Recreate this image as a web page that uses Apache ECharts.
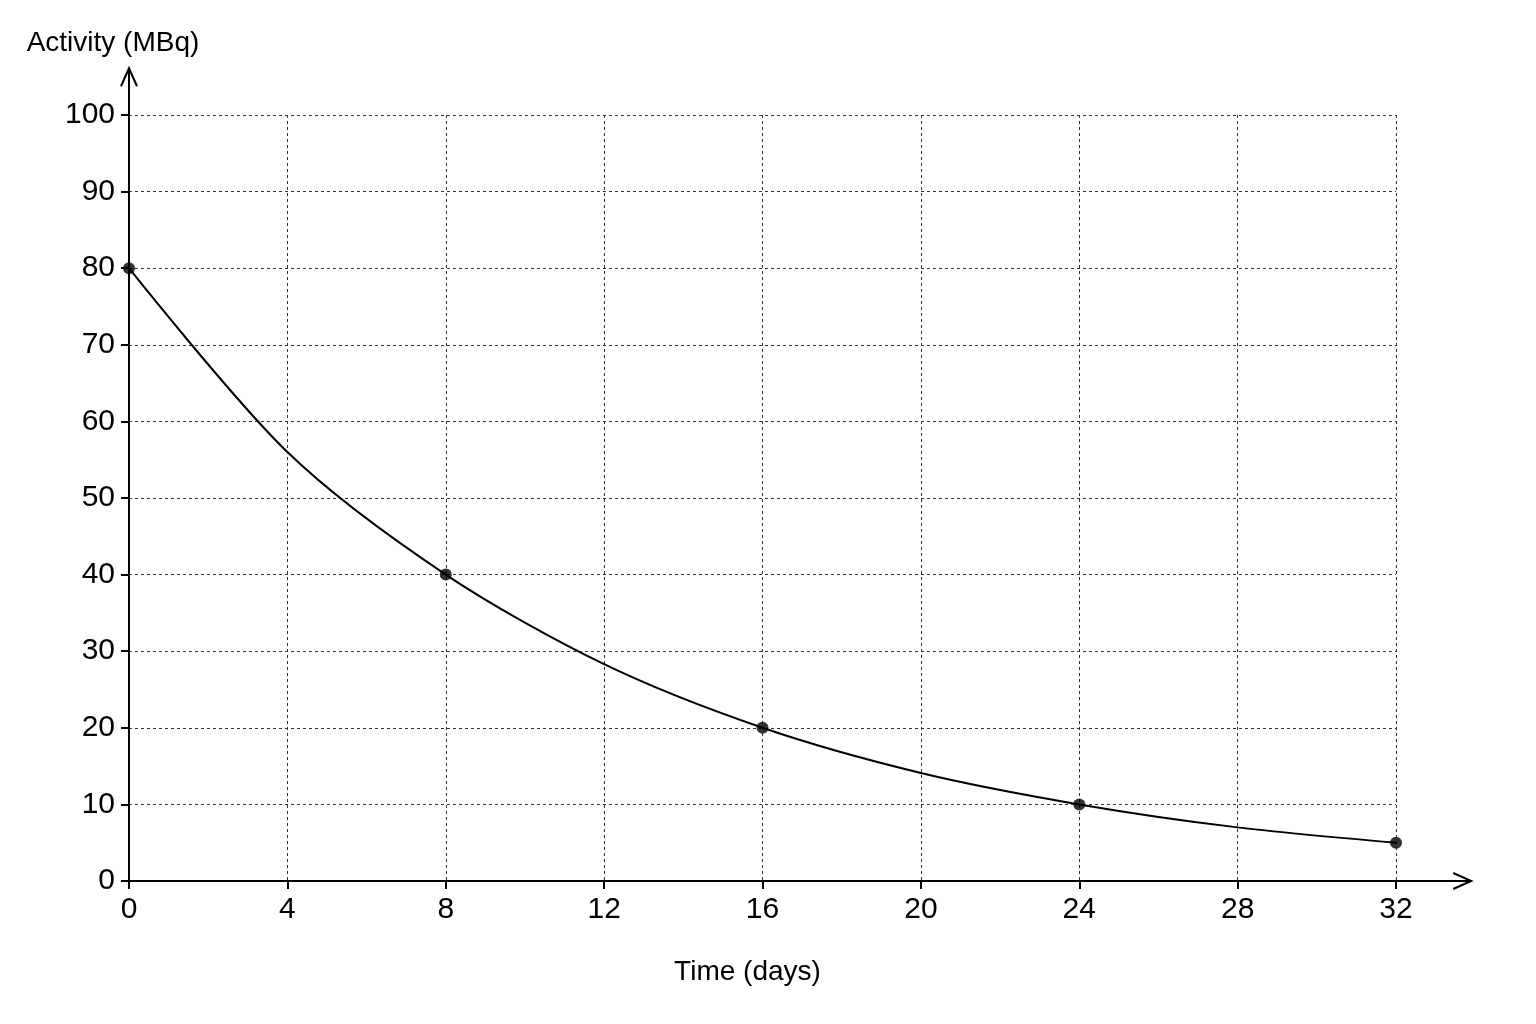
<!DOCTYPE html>
<html><head><meta charset="utf-8">
<script src="https://cdn.jsdelivr.net/npm/echarts@6/dist/echarts.min.js"></script>
<style>html,body{margin:0;background:#fff}#c{width:1536px;height:1024px}</style>
</head><body><div id="c"></div>
<script>
const days = [0, 8, 16, 24, 32];
const activity = [80, 40, 20, 10, 5];
const curveDays = [0, 4, 8, 12, 16, 20, 24, 28, 32];
const curveActivity = [80, 56, 40, 28.3, 20, 14.1, 10, 7, 5];
const font = 'Liberation Sans';
const chart = echarts.init(document.getElementById('c'));
const opt = {
  backgroundColor: '#fff',
  animation: false,
  grid: {left: 129, right: 140, top: 115, bottom: 143},
  xAxis: {type: 'value', min: 0, max: 32, interval: 4,
    axisLine: {show: false},
    axisTick: {show: true, length: 8, lineStyle: {color: '#000', width: 2}},
    axisLabel: {color: '#000', fontSize: 30, fontFamily: font, margin: 14},
    splitLine: {show: true, lineStyle: {color: '#333', type: [3, 3], width: 1}}},
  yAxis: {type: 'value', min: 0, max: 100, interval: 10,
    axisLine: {show: false},
    axisTick: {show: true, length: 8, lineStyle: {color: '#000', width: 2}},
    axisLabel: {color: '#000', fontSize: 30, fontFamily: font, margin: 14},
    splitLine: {show: true, lineStyle: {color: '#333', type: [3, 3], width: 1}}},
  series: [
    {type: 'line', smooth: 0.3, symbol: 'none', data: curveDays.map((d, i) => [d, curveActivity[i]]),
     lineStyle: {color: '#000', width: 2}, z: 3},
    {type: 'scatter', symbolSize: 12, data: days.map((d, i) => [d, activity[i]]),
     itemStyle: {color: '#000'}, z: 4}
  ]
};
chart.setOption(opt);
const o = chart.convertToPixel({gridIndex: 0}, [0, 0]);
const xe = chart.convertToPixel({gridIndex: 0}, [33.9, 0]);
const ye = chart.convertToPixel({gridIndex: 0}, [0, 106.1]);
const mid = chart.convertToPixel({gridIndex: 0}, [16, 0]);
chart.setOption({graphic: [
  {type: 'line', shape: {x1: o[0], y1: o[1], x2: xe[0], y2: xe[1]}, style: {stroke: '#000', lineWidth: 2}, z: 10},
  {type: 'line', shape: {x1: o[0], y1: o[1], x2: ye[0], y2: ye[1]}, style: {stroke: '#000', lineWidth: 2}, z: 10},
  {type: 'polyline', shape: {points: [[xe[0]-18, xe[1]-8], [xe[0], xe[1]], [xe[0]-18, xe[1]+8]]}, style: {stroke: '#000', lineWidth: 2, fill: null}, z: 10},
  {type: 'polyline', shape: {points: [[ye[0]-8, ye[1]+18], [ye[0], ye[1]], [ye[0]+8, ye[1]+18]]}, style: {stroke: '#000', lineWidth: 2, fill: null}, z: 10},
  {type: 'text', x: 113, y: 43, style: {text: 'Activity (MBq)', font: '28px ' + font, fill: '#000', align: 'center', verticalAlign: 'middle'}},
  {type: 'text', x: mid[0] - 15, y: 972, style: {text: 'Time (days)', font: '28px ' + font, fill: '#000', align: 'center', verticalAlign: 'middle'}}
]});
</script></body></html>
